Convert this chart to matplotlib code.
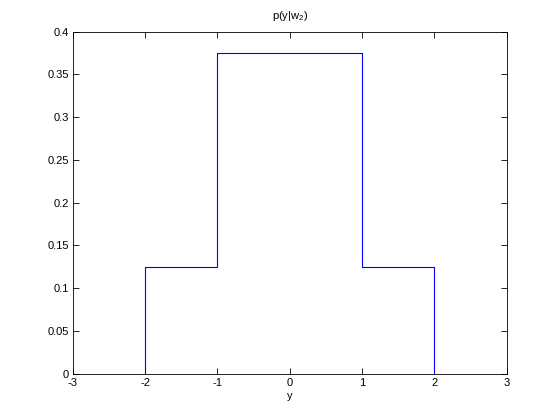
import matplotlib
matplotlib.use('Agg')
import matplotlib.pyplot as plt
import matplotlib as mpl

# step function p(y|w2)
y_edges = [-2, -2, -1, -1, 1, 1, 2, 2]
p_vals = [0, 0.125, 0.125, 0.375, 0.375, 0.125, 0.125, 0]

x_ticks = [-3, -2, -1, 0, 1, 2, 3]
y_ticks = [0, 0.05, 0.1, 0.15, 0.2, 0.25, 0.3, 0.35, 0.4]
y_tick_labels = ['0', '0.05', '0.1', '0.15', '0.2', '0.25', '0.3', '0.35', '0.4']

mpl.rcParams['font.family'] = 'Liberation Sans'
mpl.rcParams['font.size'] = 8
mpl.rcParams['axes.unicode_minus'] = False
mpl.rcParams['mathtext.default'] = 'regular'

fig = plt.figure(figsize=(5.6, 4.2), dpi=100)
ax = fig.add_axes([0.13, 0.11, 0.775, 0.815])

ax.plot(y_edges, p_vals, color=(0, 0, 1), linewidth=0.8)

ax.set_xlim(-3, 3)
ax.set_ylim(0, 0.4)
ax.set_xticks(x_ticks)
ax.set_yticks(y_ticks)
ax.set_yticklabels(y_tick_labels)
ax.tick_params(direction='in', length=4, width=0.6, top=True, right=True,
               labeltop=False, labelright=False, pad=3)
for s in ax.spines.values():
    s.set_linewidth(0.6)

ax.set_xlabel('y', labelpad=2)
ax.set_title(r'p(y|w$_2$)', fontsize=8, pad=9)

fig.savefig('out.png', dpi=100)
